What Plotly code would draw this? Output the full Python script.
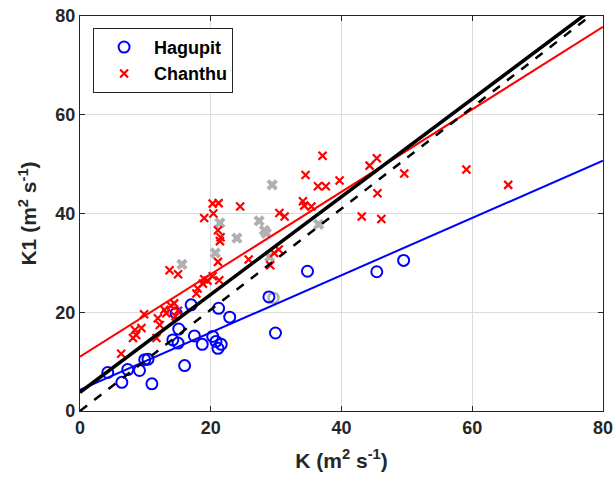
import plotly.graph_objects as go

# Hagupit (blue circles)
hag_k = [4.25, 6.4, 7.3, 9.1, 9.9, 10.4, 11.0, 16.0, 14.2, 15.1, 14.7, 17.0, 15.0, 17.5,
         18.7, 20.3, 20.8, 21.1, 21.6, 21.2, 22.9, 28.9, 29.9, 34.8, 45.4, 49.5]
hag_k1 = [7.8, 5.8, 8.4, 8.2, 10.4, 10.5, 5.5, 9.2, 14.4, 16.6, 19.8, 21.5, 13.75, 15.2,
          13.5, 15.1, 14.1, 12.7, 13.5, 20.8, 19.0, 23.1, 15.8, 28.3, 28.2, 30.5]

# Chanthu (red crosses)
cha_k = [6.3, 8.1, 8.6, 8.4, 9.4, 9.8, 11.7, 11.9, 12.2, 13.2, 12.9, 13.9, 14.4, 15.0, 14.6,
         17.8, 18.0, 18.8, 19.0, 19.5, 20.3, 21.3,
         13.7, 15.0, 19.0, 20.3, 21.2, 20.4, 21.1, 21.5, 21.4, 24.5, 21.1, 25.8, 29.1, 29.7,
         30.4, 30.5, 31.3, 34.5, 37.1, 34.1, 34.3, 35.4, 36.4, 37.6, 39.7, 44.3, 45.4, 49.6,
         45.5, 43.1, 46.1, 59.1, 65.5]
cha_k1 = [11.6, 14.8, 15.4, 16.4, 16.8, 19.6, 14.8, 18.8, 17.4, 19.8, 20.5, 21.3, 21.8, 20.3, 19.2,
          23.8, 24.8, 25.8, 26.7, 26.4, 27.3, 26.5,
          28.5, 27.7, 39.1, 42.0, 42.1, 40.0, 36.6, 35.2, 34.4, 41.4, 30.2, 30.7, 29.5, 32.0,
          32.7, 40.1, 39.4, 47.8, 51.7, 42.5, 41.6, 41.4, 45.5, 45.5, 46.7, 49.7, 51.2, 48.1,
          44.1, 39.4, 38.9, 48.9, 45.8]

# Excluded points (gray)
gray_k = [15.6, 21.4, 20.7, 24.0, 27.4, 28.2, 28.5, 29.0, 29.4, 36.5]
gray_k1 = [29.7, 38.1, 32.0, 35.0, 38.5, 36.6, 36.0, 31.2, 45.8, 37.8]
gray_circ_k = [29.6]
gray_circ_k1 = [22.9]

# Fitted lines: (intercept, slope)
fit_hag = (4.3, 0.58)
fit_cha = (11.0, 0.835)
fit_all = (3.8, 0.99)
fit_dash = (0.0, 1.025)
x_line = [0, 80]

tick_vals = [0, 20, 40, 60, 80]
tick_text = ["0", "20", "40", "60", "80"]

font = "Arial, Liberation Sans, sans-serif"

fig = go.Figure()

fig.add_trace(go.Scatter(x=gray_k, y=gray_k1, mode="markers", showlegend=False,
                         marker=dict(symbol="x", size=10, color="#b0b0b0",
                                     line=dict(width=0))))
fig.add_trace(go.Scatter(x=gray_circ_k, y=gray_circ_k1, mode="markers", showlegend=False,
                         marker=dict(symbol="circle-open", size=10, color="#b0b0b0",
                                     line=dict(width=2.5))))
fig.add_trace(go.Scatter(x=hag_k, y=hag_k1, mode="markers", name="<b>Hagupit</b>",
                         marker=dict(symbol="circle-open", size=11, color="#0000ff",
                                     line=dict(width=2, color="#0000ff"))))
fig.add_trace(go.Scatter(x=cha_k, y=cha_k1, mode="markers", name="<b>Chanthu</b>",
                         marker=dict(symbol="x-thin-open", size=8, color="#ff0000",
                                     line=dict(width=2.2, color="#ff0000"))))

def line_y(fit):
    return [fit[0] + fit[1] * x for x in x_line]

fig.add_trace(go.Scatter(x=x_line, y=line_y(fit_hag), mode="lines", showlegend=False,
                         line=dict(color="#0000ff", width=2)))
fig.add_trace(go.Scatter(x=x_line, y=line_y(fit_cha), mode="lines", showlegend=False,
                         line=dict(color="#ff0000", width=2)))
fig.add_trace(go.Scatter(x=x_line, y=line_y(fit_dash), mode="lines", showlegend=False,
                         line=dict(color="black", width=2.5, dash="dash")))
fig.add_trace(go.Scatter(x=x_line, y=line_y(fit_all), mode="lines", showlegend=False,
                         line=dict(color="black", width=3.5)))

axis_common = dict(range=[0, 80], tickvals=tick_vals,
                   ticktext=["<b>%s</b>" % t for t in tick_text],
                   showgrid=True, automargin=False,
                   gridcolor="#dcdcdc", gridwidth=1, zeroline=False, showline=True,
                   linecolor="#262626", linewidth=1.2, mirror="ticks", ticks="inside",
                   ticklen=5, tickcolor="#262626",
                   tickfont=dict(family=font, size=18, color="#262626"))

fig.update_layout(
    width=616, height=486,
    margin=dict(l=80, r=13, t=16, b=75),
    paper_bgcolor="white", plot_bgcolor="white",
    font=dict(family=font, color="#262626"),
    xaxis=dict(**axis_common,
               title=dict(text="<b>K (m<sup>2</sup> s<sup>-1</sup>)</b>",
                          font=dict(family=font, size=21, color="#262626"), standoff=16)),
    yaxis=dict(**axis_common,
               title=dict(text="<b>K1 (m<sup>2</sup> s<sup>-1</sup>)</b>",
                          font=dict(family=font, size=21, color="#262626"), standoff=12)),
    legend=dict(x=0.025, y=0.97, xanchor="left", yanchor="top",
                bgcolor="white", bordercolor="#262626", borderwidth=1,
                font=dict(family=font, size=18, color="black"),
                itemwidth=50, tracegroupgap=0),
)

fig.write_html("out.html")
